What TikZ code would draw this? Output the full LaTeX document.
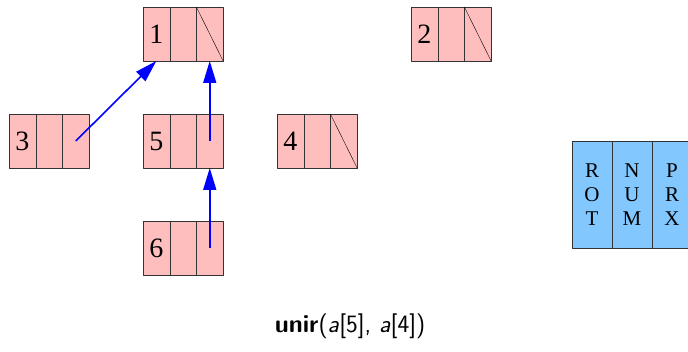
\documentclass[tikz,border=0pt]{standalone}
\usepackage{fontspec}
\setmainfont{Liberation Serif}
\usetikzlibrary{arrows.meta}
\definecolor{rosa}{RGB}{255,190,190}
\definecolor{celeste}{RGB}{130,200,255}
\tikzset{
	celda/.style={draw=black!80,fill=rosa,minimum width=26.7pt,minimum height=54pt,inner sep=0pt,outer sep=0pt,anchor=north west},
	leyenda/.style={draw=black!80,fill=celeste,minimum width=40pt,minimum height=107pt,inner sep=0pt,outer sep=0pt,anchor=north west,align=center,font=\fontsize{21}{24}\selectfont},
	enlace/.style={draw=blue,line width=1.6pt,-{Triangle[length=22pt,width=13pt,fill=blue]}}
}
\begin{document}
\begin{tikzpicture}[x=1pt,y=-1pt,line join=round,font=\fontsize{28}{32}\selectfont]
	\useasboundingbox (0,0) rectangle (688,352);
	% nodos del bosque
	\foreach \n/\x/\y in {1/143/7,2/411/7,3/9/114,5/143/114,4/277/114,6/143/221}{
		\node[celda] (c\n a) at (\x,\y) {\n};
		\node[celda] (c\n b) at (c\n a.north east) {};
		\node[celda] (c\n c) at (c\n b.north east) {};
	}
	\foreach \n in {1,2,4} \draw (c\n c.north west) -- (c\n c.south east);
	% padres
	\draw[enlace] (c3c.center) -- (c1a.south);
	\draw[enlace] (c5c.center) -- (c1c.south);
	\draw[enlace] (c6c.center) -- (c5c.south);
	% leyenda
	\node[leyenda] (rot) at (572,141) {R\\O\\T};
	\node[leyenda] (num) at (rot.north east) {N\\U\\M};
	\node[leyenda] (prx) at (num.north east) {P\\R\\X};
	\node[font=\fontsize{25}{30}\selectfont\sffamily] (titulo) at (350,326) {\textbf{unir}(\textit{a}[5], \textit{a}[4])};
\end{tikzpicture}
\end{document}
